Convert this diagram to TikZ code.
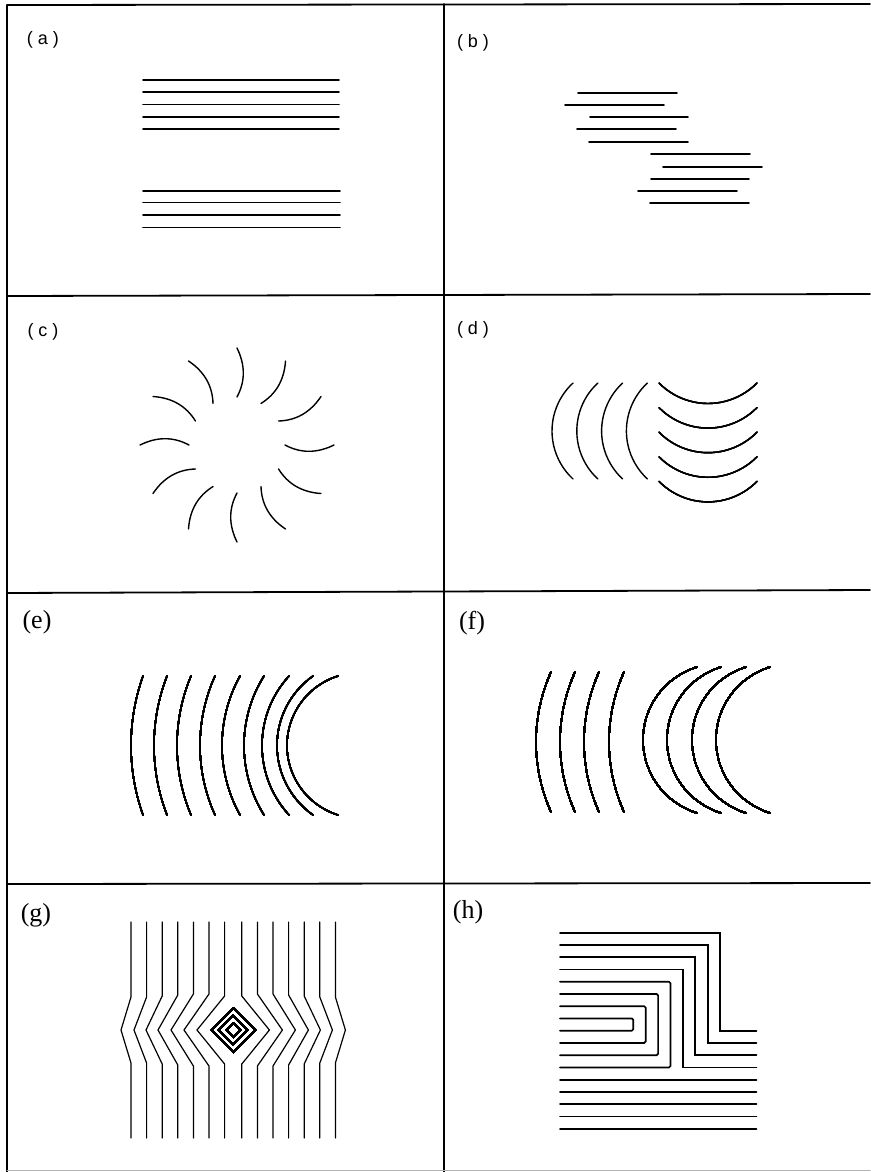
\documentclass[tikz,border=0pt]{standalone}
\usepackage{fontspec}
\usetikzlibrary{calc}
\setmainfont{Liberation Serif}
\newfontfamily\labsans{Liberation Sans}
\newcommand\lbarc[4]{% top x, top y, half chord, sagitta : arc bulging left
  \pgfmathsetmacro\Rr{(#3*#3+#4*#4)/(2*#4)}%
  \pgfmathsetmacro\ph{asin(#3/\Rr)}%
  \draw[curve] (#1,#2) arc[start angle=180+\ph, end angle=180-\ph, radius=\Rr];}
\newcommand\smarc[4]{% left x, left y, half chord, sagitta : arc bulging down
  \pgfmathsetmacro\Rr{(#3*#3+#4*#4)/(2*#4)}%
  \pgfmathsetmacro\ph{asin(#3/\Rr)}%
  \draw[curve] (#1,#2) arc[start angle=90+\ph, end angle=90-\ph, radius=\Rr];}
\begin{document}
\begin{tikzpicture}[x=1pt,y=-1pt,line cap=round,line join=miter]
\tikzset{
  frame/.style={line width=1.8pt},
  bar/.style={line width=1.7pt},
  curve/.style={line width=1.4pt},
  thin/.style={line width=1.2pt},
  labA/.style={font=\labsans\fontsize{18}{18}\selectfont,inner sep=0pt},
  labE/.style={font=\fontsize{26}{26}\selectfont,inner sep=0pt},
}
\useasboundingbox[fill=white] (0,0) rectangle (870,1172);
% ---------- frame ----------
\draw[frame] (7,5) -- (870,4);
\draw[frame] (7,5) -- (7,1172);
\draw[frame] (444,4) -- (444,1172);
\draw[frame] (7,296) -- (870,294);
\draw[frame] (7,593) -- (870,590);
\draw[frame] (7,884) -- (870,883);
\draw[line width=1pt,black!30] (7,1170) -- (870,1170);
% ---------- labels ----------
\node[labA] (la) at (43,40) {( a )};
\node[labA] (lb) at (473,43) {( b )};
\node[labA] (lc) at (43,332) {( c )};
\node[labA] (ld) at (473,330) {( d )};
\node[labE] (le) at (37,622) {(e)};
\node[labE] (lf) at (472,623) {(f)};
\node[labE] (lg) at (36,915) {(g)};
\node[labE] (lh) at (468,912) {(h)};
% ---------- (a) ----------
\foreach \y in {80,92.3,104.6,117,129.3} \draw[bar] (143,\y) -- (339,\y);
\foreach \y in {191,202.6,215,227.5} \draw[bar] (143,\y) -- (340,\y);
% ---------- (b) ----------
\foreach \xa/\xb/\y in {578/677/93,565/664/105,590/688/117,577/676/129,589/688/142,
  651/750/154,663/762/167,651/749/179,638/737/191,650/749/203}
  \draw[bar] (\xa,\y) -- (\xb,\y);
% ---------- (c) ----------
\begin{scope}[shift={(237,445)}]
\foreach \a in {0,30,...,330}
  \draw[curve] (\a:48) .. controls ($(\a:48)!0.6667!(\a+10:72.5)$) and ($(\a:97)!0.6667!(\a+10:72.5)$) .. (\a:97);
\end{scope}
% ---------- (d) ----------
\foreach \k in {0,1,2,3} \lbarc{573+24.8*\k}{383}{48}{21}
\foreach \k in {0,1,2,3,4} \smarc{659}{383+24.6*\k}{49}{20.5}
% ---------- (e) ----------
\foreach \x/\s in {143/12,167/13,191/14,215/15,240/18,264/20,289/27,313/36,338/51}
  \lbarc{\x}{676}{69.5}{\s}
% ---------- (f) ----------
\foreach \x in {551,575,599,624} \lbarc{\x}{672}{70}{15}
\foreach \x in {697,721,746,770} \lbarc{\x}{667}{73}{54}
% ---------- (g) ----------
\foreach \r in {7,14.5,22}
  \draw[curve] (233.2,1030-\r) -- (233.2+\r,1030) -- (233.2,1030+\r) -- (233.2-\r,1030) -- cycle;
\foreach \x/\v/\h in {131/121/33,146.6/134/33,162.2/146/34,177.8/158/35,193.4/171/36,209/184/36,224.6/197/34}{
  \draw[thin] (\x,922) -- (\x,1030-\h) -- (\v,1030) -- (\x,1030+\h) -- (\x,1138);
  \draw[thin] (466.4-\x,922) -- (466.4-\x,1030-\h) -- (466.4-\v,1030) -- (466.4-\x,1030+\h) -- (466.4-\x,1138);
}
% ---------- (h) ----------
\def\hL{560}\def\hR{756.5}
\foreach \a/\v/\b in {1/8/9,2/7/10,3/6/11,4/5/12}
  \draw[bar] (\hL,932.7+12.25*\a-12.25) -- (633.3+12.4*\v-12.4,932.7+12.25*\a-12.25)
     -- (633.3+12.4*\v-12.4,932.7+12.25*\b-12.25) -- (\hR,932.7+12.25*\b-12.25);
\foreach \a/\v/\b in {5/4/12,6/3/11,7/2/10,8/1/9}
  \draw[bar,rounded corners=1.5pt] (\hL,932.7+12.25*\a-12.25) -- (633.3+12.4*\v-12.4,932.7+12.25*\a-12.25)
     -- (633.3+12.4*\v-12.4,932.7+12.25*\b-12.25) -- (\hL,932.7+12.25*\b-12.25);
\foreach \a in {13,...,17}
  \draw[bar] (\hL,932.7+12.25*\a-12.25) -- (\hR,932.7+12.25*\a-12.25);
\end{tikzpicture}
\end{document}
